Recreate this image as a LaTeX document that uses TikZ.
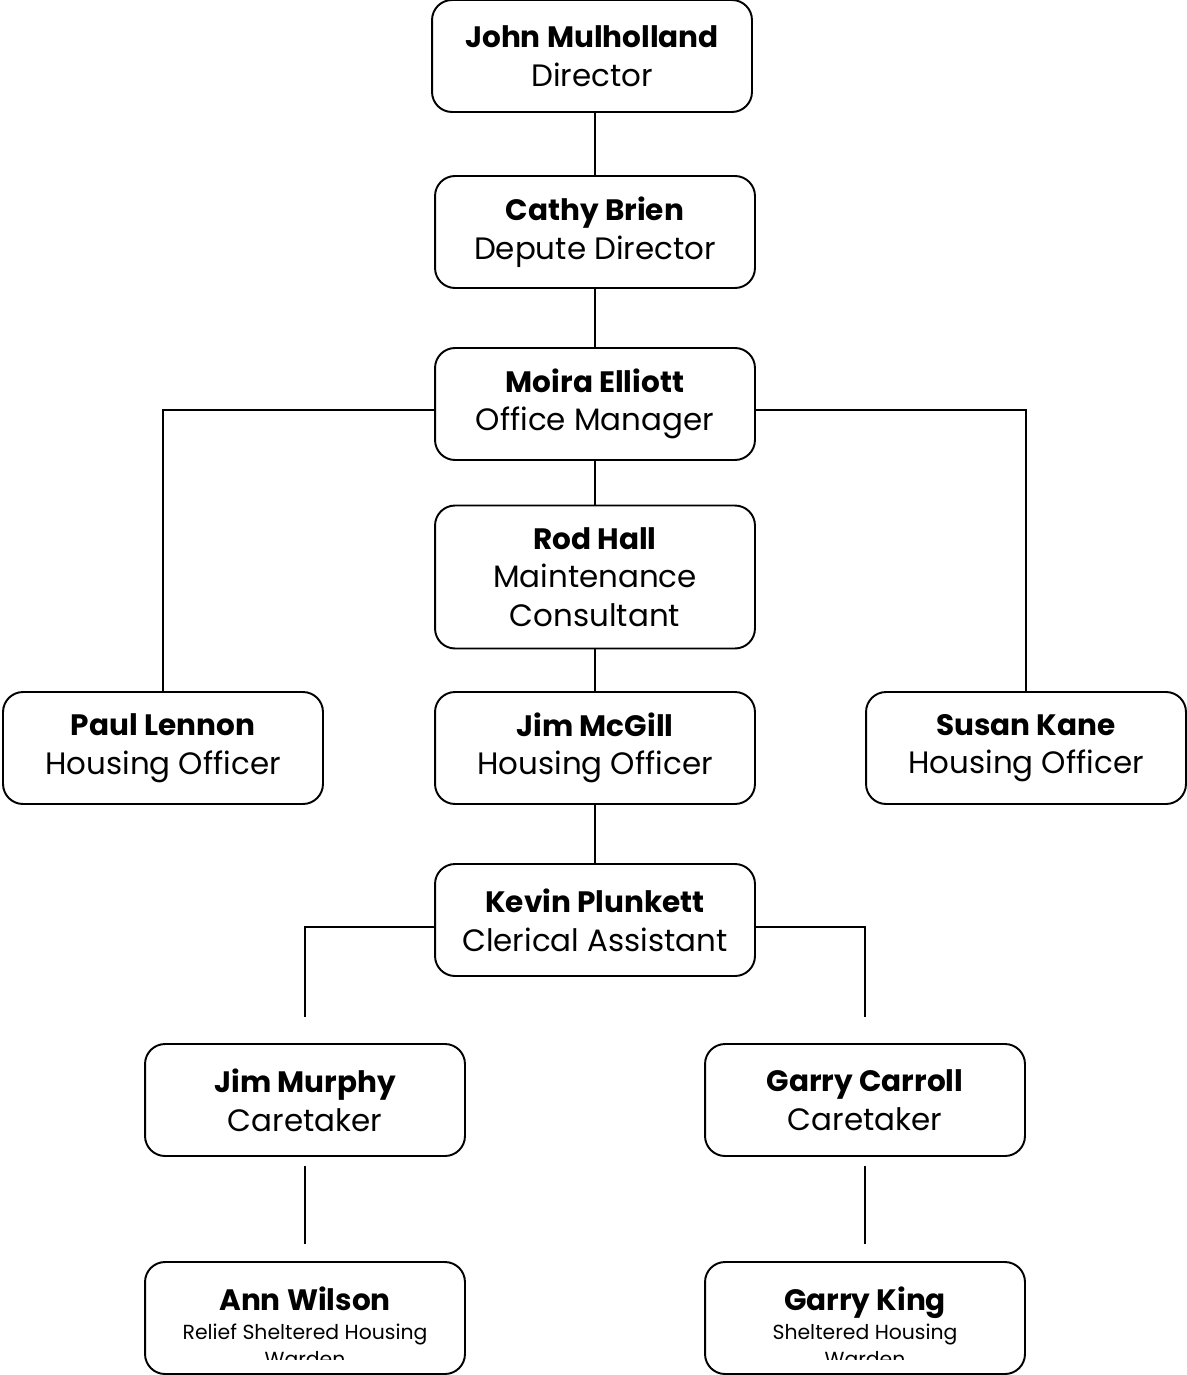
\documentclass[tikz,border=0pt]{standalone}
\usepackage{fontspec}
\setmainfont{Poppins}
\tikzset{
  post/.style={draw, line width=1.1pt, rounded corners=0.4cm, minimum width=6.4cm,
    minimum height=2.24cm, align=center, inner sep=0pt, font=\fontsize{17.6}{22}\selectfont},
  tall/.style={post, minimum height=2.86cm},
  small/.style={inner sep=0pt, anchor=base, font=\fontsize{11.6}{14}\selectfont},
  link/.style={line width=0.8pt},
}
\newcommand{\who}[2]{{\fontsize{16.8}{22}\selectfont\bfseries #1}\\#2}
\begin{document}
\begin{tikzpicture}[x=0.02cm, y=-0.02cm]
  \useasboundingbox (0,0) rectangle (1186,1375);
  % top of the chart
  \node[post] (john)  at (592,56)  {\who{John Mulholland}{Director}};
  \node[post] (cathy) at (595,232) {\who{Cathy Brien}{Depute Director}};
  \node[post] (moira) at (595,404) {\who{Moira Elliott}{Office Manager}};
  \node[tall] (rod)   at (595,577) {\who{Rod Hall}{Maintenance\\Consultant}};
  % housing officers
  \node[post] (paul)  at (163,748)  {\who{Paul Lennon}{Housing Officer}};
  \node[post] (jim)   at (595,748)  {\who{Jim McGill}{Housing Officer}};
  \node[post] (susan) at (1026,748) {\who{Susan Kane}{Housing Officer}};
  \node[post] (kevin) at (595,920)  {\who{Kevin Plunkett}{Clerical Assistant}};
  % caretakers
  \node[post] (murphy)  at (305,1100) {\who{Jim Murphy}{Caretaker}};
  \node[post] (carroll) at (865,1100) {\who{Garry Carroll}{Caretaker}};
  % wardens, text runs out of the box
  \node[post] (ann)  at (305,1318) {};
  \node[post] (king) at (865,1318) {};
  \node[post, draw=none, anchor=base] (annname)  at (305,1310) {\fontsize{16.8}{22}\selectfont\bfseries Ann Wilson};
  \node[post, draw=none, anchor=base] (kingname) at (865,1310) {\fontsize{16.8}{22}\selectfont\bfseries Garry King};
  \node[small] (annrole)  at (305,1339) {Relief Sheltered Housing};
  \node[small] (kingrole) at (865,1339) {Sheltered Housing};
  \begin{scope}
    \clip (ann.north west) rectangle (1186,1359);
    \node[small] (annward)  at (305,1366) {Warden};
    \node[small] (kingward) at (865,1366) {Warden};
  \end{scope}
  % connectors
  \draw[link] (cathy.north) -- (cathy.north |- john.south);
  \draw[link] (cathy) -- (moira);
  \draw[link] (moira) -- (rod);
  \draw[link] (rod) -- (jim);
  \draw[link] (jim) -- (kevin);
  \draw[link] ([yshift=-0.12cm]moira.west) -| (paul.north);
  \draw[link] ([yshift=-0.12cm]moira.east) -| (susan.north);
  \coordinate (murphytop)  at ([yshift=0.52cm]murphy.north);
  \coordinate (carrolltop) at ([yshift=0.52cm]carroll.north);
  \draw[link] ([yshift=-0.14cm]kevin.west) -| (murphytop);
  \draw[link] ([yshift=-0.14cm]kevin.east) -| (carrolltop);
  \draw[link] ([yshift=-0.18cm]murphy.south) -- ([yshift=0.34cm]ann.north);
  \draw[link] ([yshift=-0.18cm]carroll.south) -- ([yshift=0.34cm]king.north);
\end{tikzpicture}
\end{document}
